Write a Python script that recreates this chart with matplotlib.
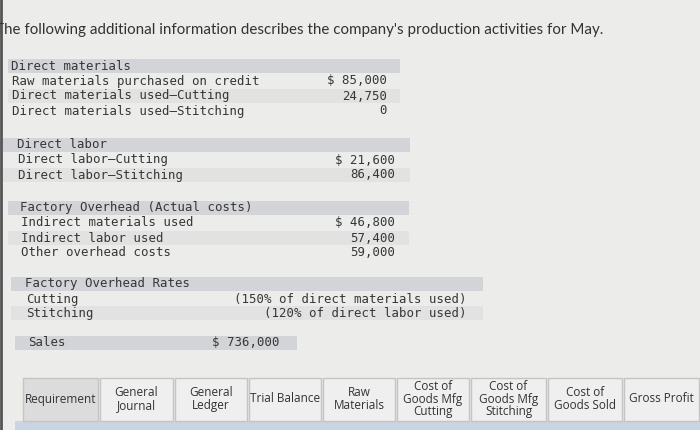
import matplotlib.pyplot as plt
from matplotlib.patches import Rectangle

title = "The following additional information describes the company's production activities for May."

dm_items = ["Raw materials purchased on credit", "Direct materials used\u2013Cutting",
            "Direct materials used\u2013Stitching"]
dm_values = ["$ 85,000", "24,750", "0"]

dl_items = ["Direct labor\u2013Cutting", "Direct labor\u2013Stitching"]
dl_values = ["$ 21,600", "86,400"]

oh_items = ["Indirect materials used", "Indirect labor used", "Other overhead costs"]
oh_values = ["$ 46,800", "57,400", "59,000"]

rate_items = ["Cutting", "Stitching"]
rate_values = ["(150% of direct materials used)", "(120% of direct labor used)"]

sales_value = "$ 736,000"

tabs = ["Requirement", "General\nJournal", "General\nLedger", "Trial Balance",
        "Raw\nMaterials", "Cost of\nGoods Mfg\nCutting", "Cost of\nGoods Mfg\nStitching",
        "Cost of\nGoods Sold", "Gross Profit"]
tab_edges = [22, 99, 174, 248, 322, 396, 470, 547, 623, 700]

fig = plt.figure(figsize=(7, 4.3), dpi=100)
fig.patch.set_facecolor("#ececea")
ax = fig.add_axes([0, 0, 1, 1])
ax.set_xlim(0, 700)
ax.set_ylim(430, 0)
ax.axis("off")

mono = "DejaVu Sans Mono"
ink = "#363636"
head_c = "#d2d4d7"
band_c = "#e2e2e2"
fs = 8.9

ax.plot([1, 1], [0, 430], color="#555555", lw=2)
# the first letter is clipped by the left edge in the screenshot
ax.text(-5, 30, title, fontsize=10.9, family="Lato", color="#333333", va="center")


def section(x0, x1, top, header, hx, items, values, vx, row_h=15):
    ax.add_patch(Rectangle((x0, top), x1 - x0, 14, color=head_c, lw=0))
    ax.text(hx, top + 7, header, family=mono, fontsize=fs, color=ink, va="center")
    for i, (lab, val) in enumerate(zip(items, values)):
        y = top + 15 + row_h * i + 7
        if i % 2 == 1:
            ax.add_patch(Rectangle((x0, y - 7), x1 - x0, 14, color=band_c, lw=0))
        ax.text(hx + 1, y, lab, family=mono, fontsize=fs, color=ink, va="center")
        ax.text(vx, y, val, family=mono, fontsize=fs, color=ink, va="center", ha="right")


section(8, 400, 59, "Direct materials", 11, dm_items, dm_values, 387)
section(3, 410, 138, "Direct labor", 17, dl_items, dl_values, 395)
section(8, 409, 201, "Factory Overhead (Actual costs)", 20, oh_items, oh_values, 395)
section(11, 483, 277, "Factory Overhead Rates", 25, rate_items, rate_values, 467, row_h=14)

ax.add_patch(Rectangle((15, 336), 282, 14, color=head_c, lw=0))
ax.text(28, 343, "Sales", family=mono, fontsize=fs, color=ink, va="center")
ax.text(280, 343, sales_value, family=mono, fontsize=fs, color=ink, va="center", ha="right")

ax.add_patch(Rectangle((15, 421), 685, 9, color="#c9d5e0", lw=0))
for i, lab in enumerate(tabs):
    l, r = tab_edges[i] + 1, tab_edges[i + 1] - 1
    fc = "#dcdcdc" if i == 0 else "#efefef"
    ax.add_patch(Rectangle((l, 378), r - l, 43, facecolor=fc, edgecolor="#c4c4c4", lw=1))
    ax.text((l + r) / 2, 399, lab, fontsize=8.5, family="Open Sans", color="#333333",
            ha="center", va="center", linespacing=1.0)

fig.savefig("out.png", dpi=100, facecolor=fig.get_facecolor())
